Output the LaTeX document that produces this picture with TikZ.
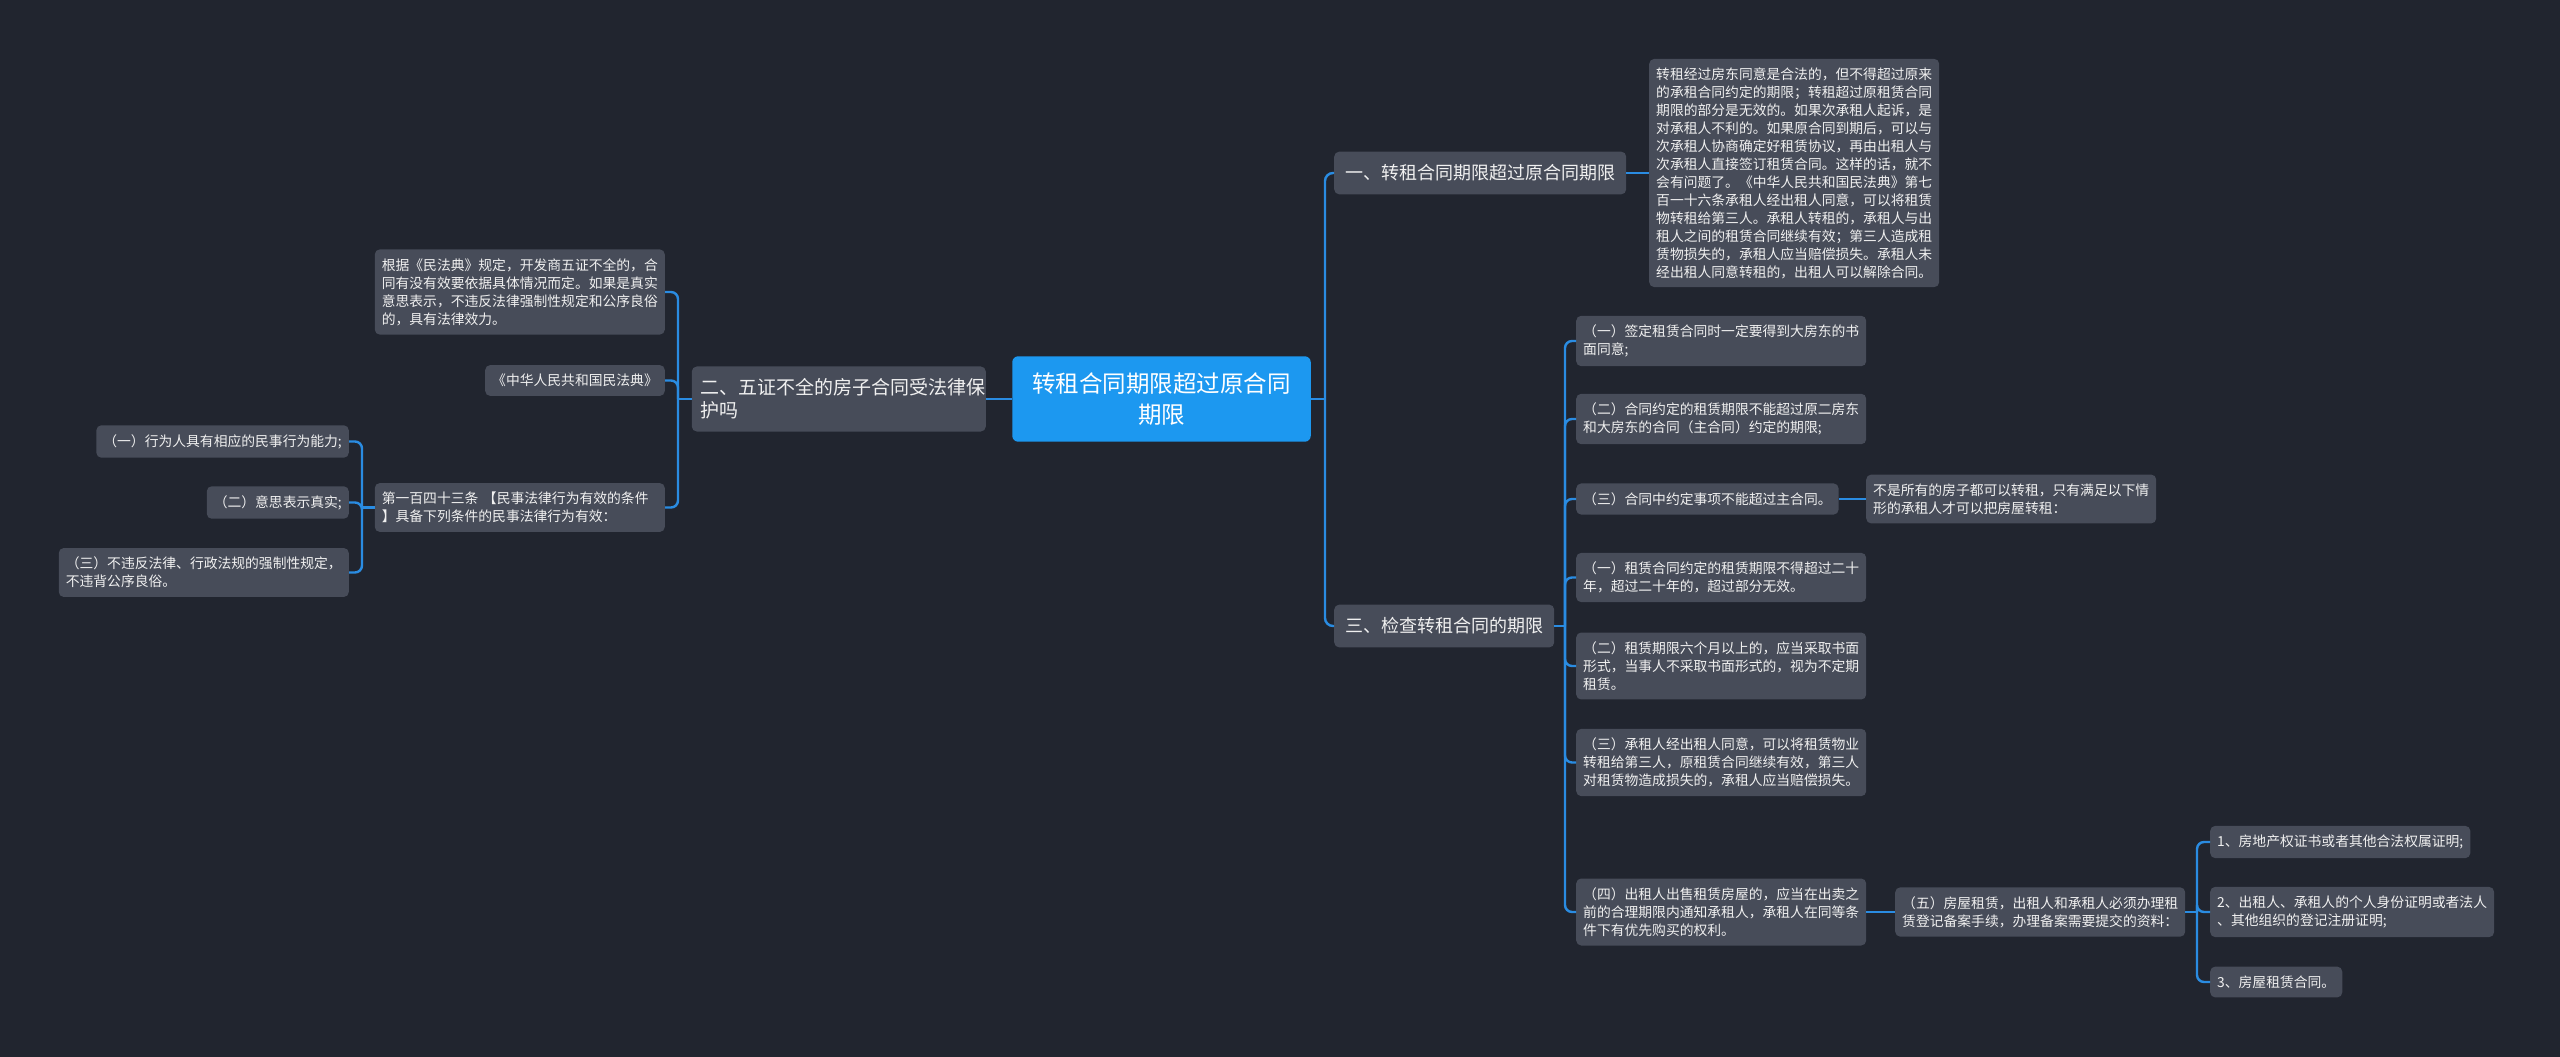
\documentclass[tikz,border=0pt]{standalone}
\usepackage{fontspec}
\setmainfont{Noto Sans CJK SC}
\usetikzlibrary{positioning}

\begin{document}
\begin{tikzpicture}[x=1pt,y=-1pt]
    \definecolor{bgdark}{HTML}{21252F}
    \definecolor{boxgray}{HTML}{474C59}
    \definecolor{rootblue}{HTML}{1C98F0}
    \definecolor{linkblue}{HTML}{2A8CE2}
    \tikzset{every path/.style={line cap=butt}}
    \tikzset{
        box/.style={rounded corners=5pt, fill=boxgray, text=white!94!black, align=left, inner xsep=7pt, inner ysep=9pt, font=\fontsize{13.8}{18}\selectfont},
        topic/.style={box, inner xsep=11pt, inner ysep=13pt, font=\fontsize{18}{23}\selectfont},
        rootbox/.style={rounded corners=6pt, fill=rootblue, text=white, align=center, inner xsep=20pt, inner ysep=16pt, font=\fontsize{23.5}{31.7}\selectfont},
        link/.style={draw=linkblue, line width=2.4pt},
    }
% Hintergrund
\fill[bgdark] (0,0) rectangle (2560,1057);

% Wurzel
\node[rootbox] (root) at (1161.5,399) {转租合同期限超过原合同\\期限};

% Hauptaeste
\node[topic, anchor=west] (topicA) at (1334,173) {一、转租合同期限超过原合同期限};
\node[topic, anchor=east, font=\fontsize{19}{23.3}\selectfont, text width=276pt, inner xsep=9pt, inner ysep=12pt] (topicB) at (986,399) {二、五证不全的房子合同受法律保\\护吗};
\node[topic, anchor=west] (topicC) at (1334,626) {三、检查转租合同的期限};

% Ast eins
\node[box, anchor=west, inner ysep=8.5pt] (noteA) at (1649,173) {转租经过房东同意是合法的，但不得超过原来\\的承租合同约定的期限；转租超过原租赁合同\\期限的部分是无效的。如果次承租人起诉，是\\对承租人不利的。如果原合同到期后，可以与\\次承租人协商确定好租赁协议，再由出租人与\\次承租人直接签订租赁合同。这样的话，就不\\会有问题了。《中华人民共和国民法典》第七\\百一十六条承租人经出租人同意，可以将租赁\\物转租给第三人。承租人转租的，承租人与出\\租人之间的租赁合同继续有效；第三人造成租\\赁物损失的，承租人应当赔偿损失。承租人未\\经出租人同意转租的，出租人可以解除合同。};

% Ast zwei
\node[box, anchor=east] (lawB1) at (665,292) {根据《民法典》规定，开发商五证不全的，合\\同有没有效要依据具体情况而定。如果是真实\\意思表示，不违反法律强制性规定和公序良俗\\的，具有法律效力。};
\node[box, anchor=east] (lawB2) at (665,380.5) {《中华人民共和国民法典》};
\node[box, anchor=east, text width=276pt] (lawB3) at (665,507.5) {第一百四十三条 【民事法律行为有效的条件\\】具备下列条件的民事法律行为有效：};
\node[box, anchor=east] (condB1) at (349,441.5) {（一）行为人具有相应的民事行为能力;};
\node[box, anchor=east] (condB2) at (349,502.5) {（二）意思表示真实;};
\node[box, anchor=east] (condB3) at (349,572.5) {（三）不违反法律、行政法规的强制性规定，\\不违背公序良俗。};

% Ast drei
\node[box, anchor=west] (itemC1) at (1576,341) {（一）签定租赁合同时一定要得到大房东的书\\面同意;};
\node[box, anchor=west] (itemC2) at (1576,419) {（二）合同约定的租赁期限不能超过原二房东\\和大房东的合同（主合同）约定的期限;};
\node[box, anchor=west] (itemC3) at (1576,499) {（三）合同中约定事项不能超过主合同。};
\node[box, anchor=west] (itemC4) at (1576,577.5) {（一）租赁合同约定的租赁期限不得超过二十\\年，超过二十年的，超过部分无效。};
\node[box, anchor=west] (itemC5) at (1576,666) {（二）租赁期限六个月以上的，应当采取书面\\形式，当事人不采取书面形式的，视为不定期\\租赁。};
\node[box, anchor=west] (itemC6) at (1576,762.5) {（三）承租人经出租人同意，可以将租赁物业\\转租给第三人，原租赁合同继续有效，第三人\\对租赁物造成损失的，承租人应当赔偿损失。};
\node[box, anchor=west] (itemC7) at (1576,912) {（四）出租人出售租赁房屋的，应当在出卖之\\前的合理期限内通知承租人，承租人在同等条\\件下有优先购买的权利。};
\node[box, anchor=west] (noteC3) at (1866,499) {不是所有的房子都可以转租，只有满足以下情\\形的承租人才可以把房屋转租：};
\node[box, anchor=west] (noteC7) at (1895,912) {（五）房屋租赁，出租人和承租人必须办理租\\赁登记备案手续，办理备案需要提交的资料：};
\node[box, anchor=west] (docE1) at (2210,842) {1、房地产权证书或者其他合法权属证明;};
\node[box, anchor=west] (docE2) at (2210,912) {2、出租人、承租人的个人身份证明或者法人\\、其他组织的登记注册证明;};
\node[box, anchor=west] (docE3) at (2210,982) {3、房屋租赁合同。};

% Verzweigungspunkte
\coordinate (jRoot) at (1325,399);
\coordinate (jB) at (678,399);
\coordinate (jBsub) at (362,507.5);
\coordinate (jC) at (1565,626);
\coordinate (jE) at (2197,912);

% Verbindungen: Wurzel
\draw[link] (root.west) -- (topicB.east);
\draw[link] (root.east) -- (jRoot);
\foreach \n in {topicA,topicC} {
    \draw[link, rounded corners=8pt] (jRoot) |- (\n.west);
}
\draw[link] (topicA.east) -- (noteA.west);

% Verbindungen: Ast zwei
\draw[link] (topicB.west) -- (jB);
\foreach \i in {1,2,3} {
    \draw[link, rounded corners=7pt] (jB) |- (lawB\i.east);
}
\draw[link] (lawB3.west) -- (jBsub);
\foreach \i in {1,2,3} {
    \draw[link, rounded corners=7pt] (jBsub) |- (condB\i.east);
}

% Verbindungen: Ast drei
\draw[link] (topicC.east) -- (jC);
\foreach \i in {1,...,7} {
    \draw[link, rounded corners=7pt] (jC) |- (itemC\i.west);
}
\draw[link] (itemC3.east) -- (noteC3.west);
\draw[link] (itemC7.east) -- (noteC7.west);
\draw[link] (noteC7.east) -- (jE);
\foreach \i in {1,2,3} {
    \draw[link, rounded corners=7pt] (jE) |- (docE\i.west);
}

\end{tikzpicture}
\end{document}
